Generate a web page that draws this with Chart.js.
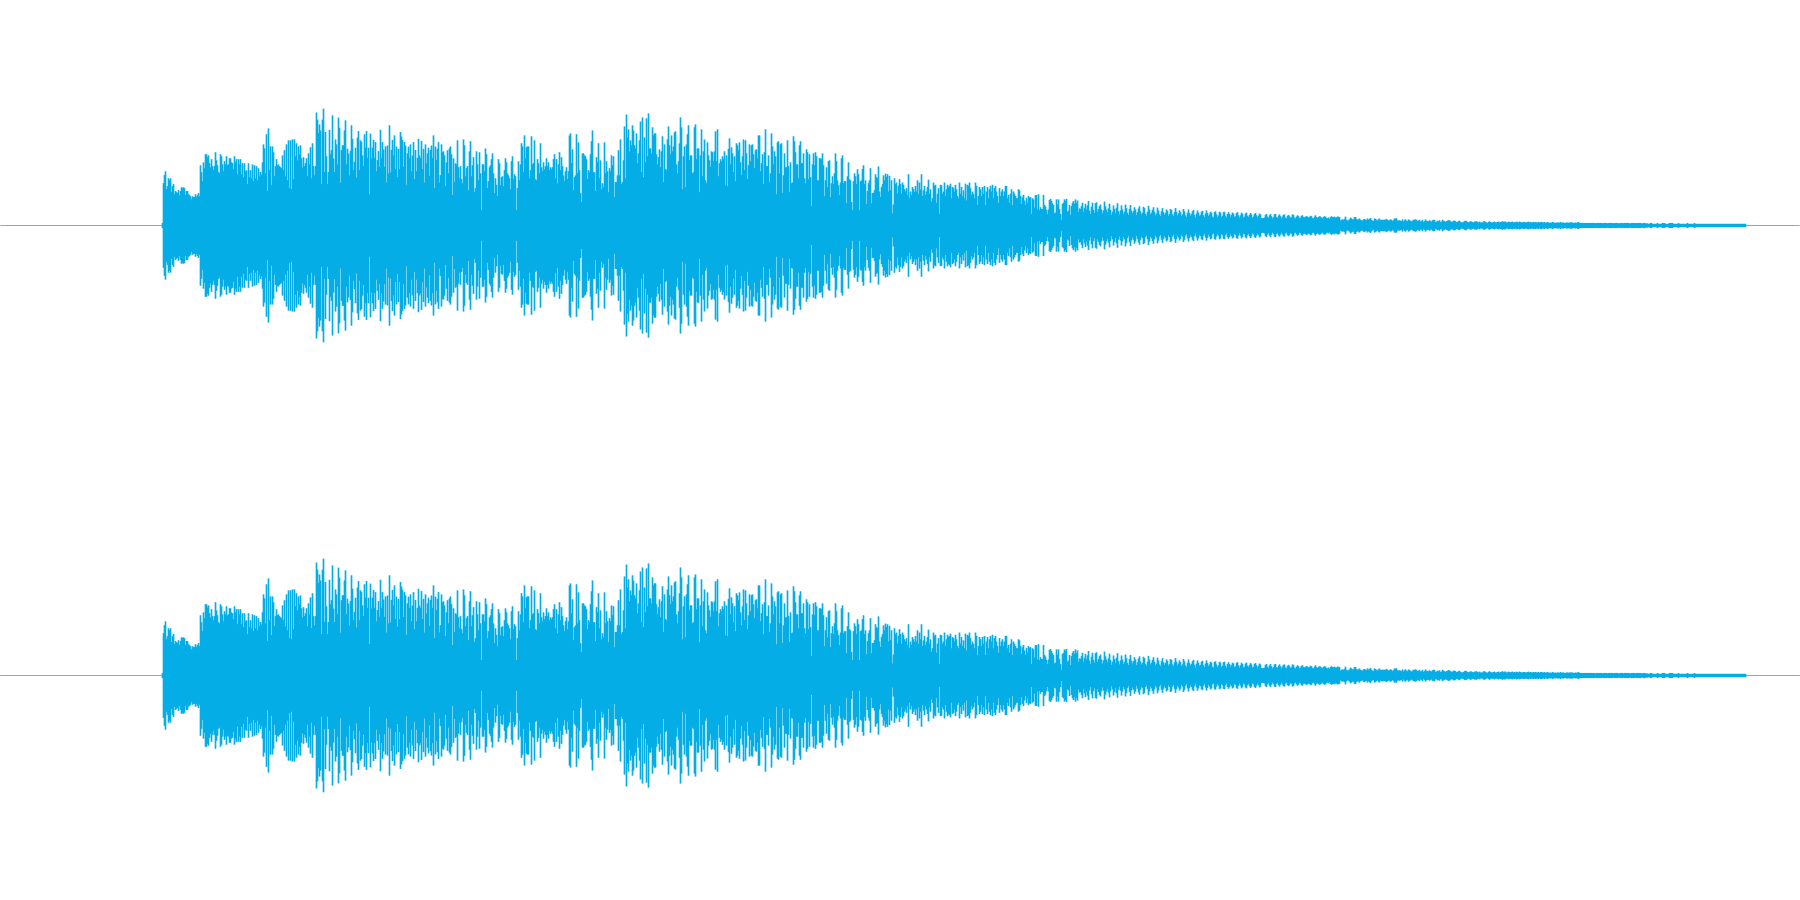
<!DOCTYPE html>
<html>
<head>
<meta charset="utf-8">
<title>Waveform</title>
<script src="https://cdn.jsdelivr.net/npm/chart.js@4/dist/chart.umd.min.js"></script>
<style>
  html, body { margin: 0; padding: 0; background: #ffffff; overflow: hidden; }
  canvas { display: block; }
</style>
</head>
<body>
<canvas id="channel-left" width="1800" height="450"></canvas>
<canvas id="channel-right" width="1800" height="450"></canvas>
<script>
// peak level per pixel column, in thousandths of full scale
const onsetColumn = 162;
const columnCount = 1800;

const attackPeaks = [10,
  187,223,240,160,174,209,200,209,147,174,183,138,152,147,143,156,134,152,169,165,
  169,165,134,152,152,138,134,129,116,129,125,125,138,125,134,143,129];

const sustainPeaks = [
  267,236,196,280,254,316,316,303,311,276,257,294,263,245,263,325,289,267,236,231,
  316,307,271,240,285,271,307,267,271,298,298,280,276,249,307,280,294,227,294,271,
  294,227,276,214,276,240,245,183,276,214,245,209,271,196,267,209,263,200,254,218,
  237,225,280,360,342,231,405,153,431,245,351,178,351,325,218,263,294,267,271,263,
  258,254,311,245,334,218,360,200,378,165,378,160,382,205,382,307,365,289,351,316,
  356,298,257,303,263,276,298,218,320,271,347,209,365,263,222,263,502,470,410,449,
  422,183,470,519,237,415,307,183,237,425,316,334,489,297,237,382,360,271,479,434,
  189,334,356,356,422,467,271,341,319,222,331,445,385,245,282,345,212,390,419,245,
  378,371,311,263,405,345,419,300,345,138,408,297,345,380,300,370,240,290,330,260,
  425,300,370,337,260,351,190,355,230,445,235,335,380,310,400,250,350,215,340,250,
  415,395,380,260,370,355,180,320,350,300,360,240,310,370,205,335,240,300,385,310,
  300,375,250,340,190,360,275,320,345,220,335,355,300,400,165,350,290,340,370,190];

const swellPeaks = [
  223,360,325,329,311,174,280,334,231,342,351,316,134,298,192,276,271,378,258,209,
  263,205,187,382,356,218,254,263,156,329,374,218,267,303,147,165,329,271,200,325,
  231,67,271,271,240,342,316,165,196,258,267,294,320,231,143,209,180,129,294,276,
  178,214,218,174,245,298,280,231,222,209,160,285,307,205,227,218,67,165,285,200,
  271,365,351,236,400,298,347,351,351,209,245,396,271,276,378,205,200,294,276,231,
  365,258,240,280,249,263,298,263,280,245,258,249,258,294,316,209,294,187,271,325,
  245,303,263,222,196,240,258,205,240,400,409,276,338,156,214,222,405,231,369,245,
  143,103,320,320,311,307,294,205,245,236,316,374,422,236,236,152,303,280,365,209,
  289,160,187,169,369,231,285,240,147,254,240,311,267,307,125,192,192,222,334,222,
  382,183,192,289,440,209,493,391,427,329,378,356,445,422,356,342,409,276,320,378,
  462,236,480,214,391,280,476,307,498,342,342,320,436,400,409,409,316,271,303,338,
  258,329,396,192,360,250,245,382,440,356,316,400,329,351,413,418,271,231,285,365,
  480,436,160,307,351,169,360,405,445,290,311,311,231,236,436,449,294,342,342,147,
  311,427,218,329,382,200,187,369,311,289,260,329,325,285,329,418,285,427,218,276,
  294,285,307,294,329,178,311,174,340,387,271,347,320,236,307,196,365,356,334,369];

const decayPeaks = [
  280,223,307,382,245,378,320,205,267,360,285,356,360,316,254,334,338,298,400,400,
  240,276,316,183,325,427,263,263,311,192,231,409,351,271,329,307,138,369,374,231,
  360,365,143,222,320,258,258,378,263,147,280,187,190,396,374,325,271,271,209,356,
  374,276,276,320,209,187,338,325,205,316,214,85,271,320,267,325,307,200,200,298,
  298,294,320,267,129,200,258,169,285,289,125,187,218,183,231,320,285,200,178,134,
  190,298,311,187,196,196,98,218,280,205,200,103,67,196,231,218,183,249,227,67,
  196,200,250,267,183,200,94,152,187,200,254,98,143,143,156,227,214,209,262,150,
  126,170,183,222,200,230,215,227,150,220,156,200,52,92,209,183,190,141,176,205,
  183,140,190,180,160,150,165,135,227,120,150,135,170,160,148,175,150,200,140,190,
  160,227,130,155,175,135,150,170,203,140,160,105,120,190,175,180,100,140,165,50,
  180,178,140,150,190,130,160,180,170,175,185,120,170,165,150,180,160,130,120,190,
  140,170,130,155,120,185,110,180,175,190,165,135,150,140,120,190,175,90,130,170,
  160,130,170,140,175,90,150,170,120,160,175,150,180,120,165,175,150,130,100,165,
  130,150,160,130,150,175,175,120,135,100,140,160,90,150,140,130,120,120,160,155,
  130,95,125,135,110,90,122,100,130,122,125,50,120,115,78,134,134,70,138,67];

const fadePeaks = [
  80,72,72,135,90,83,68,50,70,112,117,108,98,90,53,56,115,92,115,72,
  50,24,95,100,115,108,117,60,65,90,45,85,100,108,95,115,98,110,60,75,
  72,85,100,60,78,95,70,88,108,65,50,82,100,68,55,98,102,60,72,85,
  92,70,52,66,105,84,70,58,75,96,68,46,60,88,72,54,78,98,62,48,
  66,88,70,50,60,92,76,55,45,72,90,65,52,62,80,70,45,58,74,84,
  62,48,55,82,76,50,42,60,86,70,48,56,68,80,60,44,52,78,66,48,
  40,62,76,58,46,54,70,64,42,50,72,68,48,40,58,76,60,44,52,66,
  58,40,48,72,62,44,36,56,70,54,42,50,62,68,46,34,52,66,56,42,
  46,60,64,44,36,52,66,54,40,48,60,56,38,34,58,62,48,36,44,60,
  56,36,42,58,60,42,34,50,58,50,38,46,56,52,36,40,54,58,44,34,
  44,56,50,34,38,52,56,42,36,46,54,48,34,38,50,54,44,34,42,52,
  48,32,30,32,34,46,50,38,32,44,50,40,30,36,48,50,36,32,42,48,
  40,30,38,46,48,34,30,42,46,40,32,36,48,46,34,30,38,44,40,30,
  34,42,44,36,34,38,40,38,34,36,42,40,32,30,38,44,36,32,36,40,
  38,34,30,36,40,38,32,30,34,28,36,40,36,36,38,34,34,38,38,36];

const tailPeaks = [
  20,24,26,24,28,38,24,20,22,26,34,30,26,26,36,36,28,24,26,30,
  24,22,20,26,28,24,22,30,24,28,32,24,20,18,30,28,24,20,26,30,
  22,24,24,24,24,24,28,24,20,22,26,24,18,22,30,30,30,22,20,22,
  20,18,26,16,22,26,20,18,26,22,20,16,20,24,24,26,24,18,20,24,
  16,18,24,14,18,26,20,18,18,22,18,16,22,24,24,14,16,20,18,22,
  14,16,24,20,18,14,18,20,22,22,18,14,16,20,20,18,14,14,18,20,
  14,12,12,14,18,20,18,14,12,14,18,16,14,12,16,16,18,14,12,16,
  12,12,12,16,18,14,12,10,14,18,14,12,12,14,16,12,12,14,16,12,
  14,14,18,14,16,16,12,12,16,14,12,14,16,12,14,12,16,14,12,16,
  14,12,12,14,14,12,12,14,16,12,14,12,12,14,12,14,12,12,14,10,
  14,14,12,12,14,10,12,14,12,10,12,10,14,12,10,12,10,12,12,10,
  14,10,12,12,10,10,12,12,10,12,12,12,12,10,10,12,10,12,14,10,
  10,10,10,10,10,10,10,10,10,10,10,10,10,10,10,8,10,10,10,10,
  10,10,8,10,10,10,10,8,10,10,10,10,10,8,10,10,10,10,8,8,
  10,10,10,8,10,10,10,10,10,8,8,10,10,10,10,8,10,10,10,10,
  10,8,8,10,10,8,8,8,6,6,10,10,6,6,6,6,6,10,6,6,
  6,6,10,10,10,6,6,6,6,10,10,10,10,6,6,6,6,6,10,6,
  6,6,6,6,6,6,6,10,6,6,6,6,6,6,10,6,6,6,6,6,
  6,6,6,6,6,6,6,6,6,6,6,6,6,6,6,6,6,6,6,6,
  6,6,6,6,6,6,6,6,6,6,6,6,6,6,6,6,6,6,6,6,
  6,6,6,6,6,6];

// both channels carry the same signal
const leftPeaks = [...attackPeaks, ...sustainPeaks, ...swellPeaks, ...decayPeaks, ...fadePeaks, ...tailPeaks];
const rightPeaks = leftPeaks;

const columnLabels = Array.from({ length: columnCount }, (_, i) => i);

function drawChannel(canvasId, peaks) {
    const spans = columnLabels.map(i => {
        const peak = peaks[i - onsetColumn];
        return peak === undefined ? null : [-peak, peak];
    });

    return new Chart(document.getElementById(canvasId), {
        data: {
            labels: columnLabels,
            datasets: [
                {
                    type: 'bar',
                    data: spans,
                    backgroundColor: '#05ade5',
                    borderWidth: 0,
                    barPercentage: 1,
                    categoryPercentage: 1
                },
                {
                    type: 'line',
                    data: columnLabels.map(() => 0),
                    borderColor: '#1aa6da',
                    borderWidth: 1,
                    pointRadius: 0
                }
            ]
        },
        options: {
            responsive: false,
            animation: false,
            devicePixelRatio: 1,
            layout: { padding: { top: 1 } },
            plugins: {
                legend: { display: false },
                tooltip: { enabled: false }
            },
            scales: {
                x: { display: false },
                y: { display: false, min: -1000, max: 1000 }
            }
        }
    });
}

drawChannel('channel-left', leftPeaks);
drawChannel('channel-right', rightPeaks);
</script>
</body>
</html>
